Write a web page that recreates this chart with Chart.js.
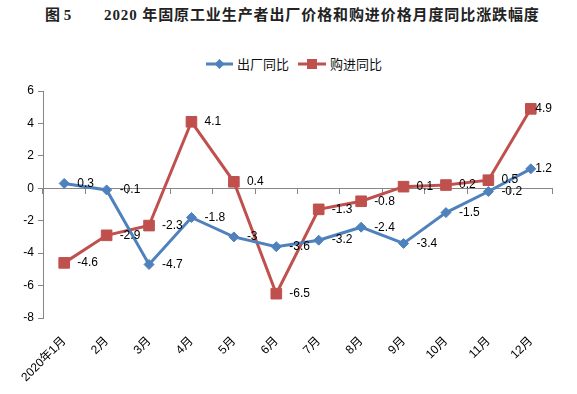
<!DOCTYPE html>
<html>
<head>
<meta charset="utf-8">
<script src="https://cdn.jsdelivr.net/npm/chart.js@4"></script>
<style>
  body { margin: 0; background: #fff; }
  #wrap { position: relative; width: 577px; height: 394px; }
  #chart { position: absolute; left: 0; top: 0; }
  .title { position: absolute; top: 5px; font: bold 15px/20px "Liberation Serif", "Noto Sans CJK SC"; color: #222; white-space: nowrap; }
  #legend { position: absolute; top: 56px; left: 206px; display: flex; align-items: center; font: 13px/16px "Noto Sans CJK SC", sans-serif; color: #111; }
  #legend .item { display: flex; align-items: center; }
  #legend svg { margin-right: 4px; }
</style>
</head>
<body>
<div id="wrap">
  <div class="title" style="left:45px">图 5</div>
  <div class="title" style="left:104px; letter-spacing:0.9px">2020 年固原工业生产者出厂价格和购进价格月度同比涨跌幅度</div>
  <div id="legend">
    <div class="item">
      <svg width="27" height="12"><line x1="0" y1="6" x2="27" y2="6" stroke="#4F81BD" stroke-width="3"/><polygon points="13.5,1 18.5,6 13.5,11 8.5,6" fill="#4F81BD"/></svg>
      <span>出厂同比</span>
    </div>
    <div class="item" style="margin-left:9px">
      <svg width="28" height="12"><line x1="0" y1="6" x2="28" y2="6" stroke="#C0504D" stroke-width="3"/><rect x="9" y="1" width="10" height="10" fill="#C0504D"/></svg>
      <span>购进同比</span>
    </div>
  </div>
  <canvas id="chart" width="577" height="394"></canvas>
</div>
<script>
"use strict";

const months = ["2020年1月", "2月", "3月", "4月", "5月", "6月", "7月", "8月", "9月", "10月", "11月", "12月"];
const factoryPrice = [0.3, -0.1, -4.7, -1.8, -3, -3.6, -3.2, -2.4, -3.4, -1.5, -0.2, 1.2];
const purchasePrice = [-4.6, -2.9, -2.3, 4.1, 0.4, -6.5, -1.3, -0.8, 0.1, 0.2, 0.5, 4.9];
const yTicks = [-8, -6, -4, -2, 0, 2, 4, 6];

const BLUE = "#4F81BD";
const RED = "#C0504D";
const AXIS = "#868686";
const FONT = '"Liberation Sans", "Noto Sans CJK SC", sans-serif';

// values written to the right of each point, kept inside the plot area
const valueLabels = {
  id: "valueLabels",
  afterDatasetsDraw(chart) {
    const {ctx, chartArea} = chart;
    ctx.save();
    ctx.font = "12px " + FONT;
    ctx.fillStyle = "#000";
    ctx.textBaseline = "middle";
    ctx.textAlign = "left";
    chart.data.datasets.forEach((ds, i) => {
      chart.getDatasetMeta(i).data.forEach((pt, j) => {
        const text = String(ds.data[j]);
        const w = ctx.measureText(text).width;
        const x = Math.min(pt.x + 13, chartArea.right - w);
        ctx.fillText(text, x, pt.y);
      });
    });
    ctx.restore();
  }
};

new Chart(document.getElementById("chart"), {
  type: "line",
  data: {
    labels: months,
    datasets: [
      {
        label: "出厂同比",
        data: factoryPrice,
        borderColor: BLUE,
        backgroundColor: BLUE,
        borderWidth: 3,
        pointStyle: "rectRot",
        pointRadius: 5,
        pointBorderWidth: 1,
        pointBackgroundColor: BLUE,
        pointBorderColor: BLUE,
        tension: 0
      },
      {
        label: "购进同比",
        data: purchasePrice,
        borderColor: RED,
        backgroundColor: RED,
        borderWidth: 3,
        pointStyle: "rect",
        pointRadius: 7.5,
        pointBorderWidth: 1,
        pointBackgroundColor: RED,
        pointBorderColor: RED,
        tension: 0
      }
    ]
  },
  options: {
    responsive: false,
    animation: false,
    layout: {padding: {top: 91, right: 25, left: 0, bottom: 0}},
    plugins: {
      legend: {display: false},
      tooltip: {enabled: false}
    },
    scales: {
      x: {
        offset: true,
        grid: {display: false, drawTicks: false},
        border: {display: false},
        ticks: {
          autoSkip: false,
          maxRotation: 45,
          minRotation: 45,
          padding: 16,
          color: "#000",
          font: {size: 12, family: FONT}
        },
        afterFit: (scale) => { scale.height = 76; }
      },
      x2: {
        type: "category",
        axis: "x",
        position: {y: 0},
        offset: true,
        grid: {offset: true, drawOnChartArea: false, tickLength: 5, color: AXIS},
        border: {color: AXIS, width: 1},
        ticks: {display: false}
      },
      y: {
        min: -8,
        max: 6,
        afterBuildTicks: (scale) => { scale.ticks = yTicks.map((v) => ({value: v})); },
        grid: {drawOnChartArea: false, tickLength: 5, color: AXIS},
        border: {color: AXIS, width: 1},
        ticks: {padding: 4, color: "#000", font: {size: 12, family: FONT}},
        afterFit: (scale) => { scale.width = 43; }
      }
    }
  },
  plugins: [valueLabels]
});
</script>
</body>
</html>
